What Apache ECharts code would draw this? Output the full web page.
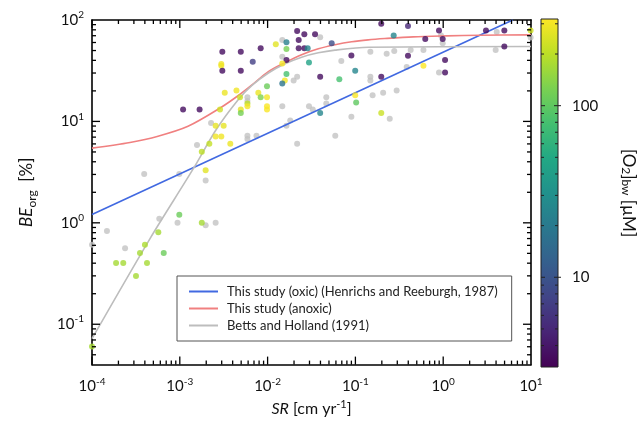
<!DOCTYPE html>
<html><head><meta charset="utf-8">
<script src="https://cdn.jsdelivr.net/npm/echarts@6/dist/echarts.min.js"></script>
<style>html,body{margin:0;padding:0;background:#fff}#c{width:638px;height:422px}</style>
</head><body><div id="c"></div>
<script>
const FONT = 'Lato';

// This study: sedimentation rate [cm/yr], burial efficiency [%], bottom-water O2 [uM]
const srStudy = [3.05e-3,4.95e-3,8.34e-3,1.24e-2,6.77e-3,2.97e-3,2.97e-3,3.05e-3,4.95e-3,3.25e-3,
  4.42e-3,9.84e-3,7.84e-3,4.85e-3,5.89e-3,8.34e-3,9.84e-3,5.89e-3,4.95e-3,4.95e-3,
  9.84e-3,9.84e-3,1.09e-3,1.68e-3,2.87e-3,2.56e-3,3.16e-3,2.56e-3,2.97e-3,3.76e-3,
  2.17e-3,1.78e-3,1.97e-3,9.87e-4,1.78e-3,5.69e-4,4.01e-4,3.52e-4,6.56e-4,1.88e-4,
  2.27e-4,4.23e-4,3.17e-4,1.0e-4,2.17e-2,2.62e-2,3.47e-2,2.26e-2,1.64e-2,5.37e-2,
  2.26e-2,2.62e-2,2.86e-2,1.64e-2,1.64e-2,1.47e-2,2.96e-2,9.00e-2,9.95e-2,1.64e-2,
  1.57e-2,1.47e-2,3.97e-2,6.56e-2,0.197,3.97e-2,9.95e-2,0.102,0.197,0.197,
  0.397,0.273,0.896,0.987,0.625,0.397,0.596,1.05,1.05,3.07,
  4.97,9.9,4.97];
const beStudy = [48.6,48.6,52.6,57.5,38.7,36.8,35.4,31.6,31.6,19.2,
  20.2,22.2,19.2,17.3,15.0,17.3,17.3,14.1,13.1,12.1,
  14.1,13.1,13.1,13.1,13.1,9.06,9.06,7.10,7.10,6.03,
  6.03,5.02,3.30,1.20,1.00,0.807,0.607,0.503,0.503,0.401,
  0.401,0.401,0.299,0.0603,78.0,72.4,72.4,63.5,60.5,59.0,
  52.6,52.6,52.6,51.7,40.3,37.3,38.2,44.7,31.6,29.4,
  25.3,23.6,27.5,26.0,27.5,12.1,18.1,15.4,12.1,92.0,
  87.3,70.5,78.6,64.9,64.9,44.4,35.4,40.3,30.3,78.6,
  78.6,78.6,54.8];
const o2Study = [3.5,3.5,3.5,260,7,290,290,3.5,3.5,280,
  290,110,280,220,200,130,300,300,270,120,
  310,310,3.5,3.5,230,270,270,290,290,280,
  210,200,260,110,170,170,180,170,110,170,
  170,170,170,170,3.5,3.5,3.5,3.5,22,9,
  3.5,3.5,25,120,3.5,300,45,3.5,25,80,
  300,18,3.5,80,3.5,25,310,100,220,3.5,
  5,25,3.5,3.5,3.5,3.5,320,3.5,3.5,3.5,
  3.5,230,3.5];

// Compilation data (grey)
const srOther = [3.97e-2,1.47e-2,1.47e-2,6.91e-2,0.148,2.17e-2,1.98e-2,0.148,0.148,5.89e-3,
  5.89e-3,1.47e-2,2.96e-2,3.27e-2,4.66e-2,4.66e-2,9.00e-2,1.81e-2,1.64e-2,0.157,
  0.207,5.89e-3,5.89e-3,7.47e-3,2.17e-2,5.90e-2,0.227,0.277,0.426,0.596,
  0.944,0.987,0.384,0.896,0.295,0.246,4.07,9.9,3.96,2.27e-3,
  1.57e-3,3.93e-4,9.87e-4,1.97e-3,5.84e-4,9.42e-4,1.97e-3,2.56e-3,1.48e-4,2.38e-4,
  1.0e-4];
const beOther = [67.7,63.5,43.4,39.4,48.6,27.5,25.3,27.5,25.3,17.3,
  15.9,14.1,14.1,13.1,17.3,15.0,11.1,10.2,9.06,18.1,
  19.2,7.22,6.70,7.22,6.03,7.22,46.5,49.4,50.5,50.5,
  70.5,59.0,34.4,30.3,20.2,10.6,76.3,67.1,50.5,9.65,
  5.85,3.03,3.03,2.61,1.10,1.00,0.945,1.00,0.833,0.561,
  0.607];

// Curves
const oxicSR = [1e-4, 6.2];
const oxicBE = [1.21, 100];
const anoxSR = [1e-4,2.71e-4,5.65e-4,1.24e-3,2.97e-3,4.60e-3,6.59e-3,1.02e-2,1.58e-2,2.44e-2,3.78e-2,5.86e-2,9.08e-2,0.140,0.217,0.456,1.10,2.62,10];
const anoxBE = [5.45,6.20,7.15,8.96,13.8,17.9,22.8,31.0,38.0,45.5,52.0,57.0,61.0,63.7,65.6,68.2,69.7,70.8,71.3];
const bhSR = [1e-4,4.58e-4,1.42e-3,2.61e-3,4.60e-3,6.59e-3,1.02e-2,1.58e-2,2.44e-2,3.78e-2,5.86e-2,0.14,10];
const bhBE = [0.072,0.70,3.40,8.37,16.3,22.5,30.0,37.0,43.0,47.5,50.5,53.8,54.7];

const seriesNames = ['This study (oxic) (Henrichs and Reeburgh, 1987)','This study (anoxic)','Betts and Holland (1991)'];
const cbTickLabels = [10,100];

const viridis = ['#440154','#482475','#414487','#355f8d','#2a788e','#21918c','#22a884','#44bf70','#7ad151','#bddf26','#fde725'];
const O2MIN = 3, O2MAX = 320;

const zip = (a,b)=>a.map((v,i)=>[v,b[i]]);
const isPow = v => Math.abs(Math.log10(v) - Math.round(Math.log10(v))) < 1e-6;
const powLabel = v => isPow(v) ? '{b|10}{s|' + Math.round(Math.log10(v)) + '}' : '';
const richPow = {
  b:{fontSize:15, fontFamily:FONT, color:'#111', lineHeight:20},
  s:{fontSize:10, fontFamily:FONT, color:'#111', lineHeight:9, verticalAlign:'top'}
};

// tick marks (major / minor) for log axes
const tickData = [];
for (let e=-4; e<=0; e++) for (let m=1; m<=9; m++) tickData.push([m*Math.pow(10,e), 1, 0, m===1?1:0]);
for (let e=-2; e<=1; e++) for (let m=1; m<=9; m++) { const v=m*Math.pow(10,e); if (v>=0.05 && v<100) tickData.push([0.01, v, 1, m===1?1:0]); }

const cbTicks = [];
for (let e=0; e<=2; e++) for (let m=1; m<=9; m++) { const v=m*Math.pow(10,e); if (v>O2MIN && v<O2MAX) cbTicks.push(v); }

const chart = echarts.init(document.getElementById('c'), null, {renderer:'canvas'});
const axisLineStyle = {color:'#000', width:1.6};

const option = {
  animation:false,
  textStyle:{fontFamily:FONT},
  grid:[
    {left:92, top:20, width:439, height:347},
    {left:541, top:19, width:22, height:348}
  ],
  xAxis:[
    {type:'log', gridIndex:0, logBase:10, min:1e-4, max:10, position:'bottom',
     axisLine:{lineStyle:axisLineStyle}, axisTick:{show:false}, splitLine:{show:false},
     axisLabel:{formatter:powLabel, rich:richPow, margin:12},
     name:'{i|SR}{n| [cm yr}{s|-1}{n|]}', nameLocation:'middle', nameGap:34,
     nameTextStyle:{rich:{
       i:{fontSize:16,fontStyle:'italic',fontFamily:FONT,color:'#111',lineHeight:20},
       n:{fontSize:16,fontFamily:FONT,color:'#111',lineHeight:20},
       s:{fontSize:11,fontFamily:FONT,color:'#111',lineHeight:9,verticalAlign:'top'}}}},
    {type:'log', gridIndex:0, logBase:10, min:1e-4, max:10, position:'top',
     axisLine:{lineStyle:axisLineStyle}, axisTick:{show:false}, axisLabel:{show:false}, splitLine:{show:false}},
    {type:'value', gridIndex:1, min:0, max:1, show:false}
  ],
  yAxis:[
    {type:'log', gridIndex:0, logBase:10, min:0.04, max:100, position:'left',
     axisLine:{lineStyle:axisLineStyle}, axisTick:{show:false}, splitLine:{show:false},
     axisLabel:{formatter:powLabel, rich:richPow, margin:8},
     name:'{i|BE}{sub|org}{n|  [%]}', nameLocation:'middle', nameGap:54,
     nameTextStyle:{rich:{
       i:{fontSize:17,fontStyle:'italic',fontFamily:FONT,color:'#111',lineHeight:22},
       n:{fontSize:17,fontFamily:FONT,color:'#111',lineHeight:22},
       sub:{fontSize:12,fontFamily:FONT,color:'#111',lineHeight:9,verticalAlign:'bottom'}}}},
    {type:'log', gridIndex:0, logBase:10, min:0.04, max:100, position:'right',
     axisLine:{lineStyle:axisLineStyle}, axisTick:{show:false}, axisLabel:{show:false}, splitLine:{show:false}},
    {type:'log', gridIndex:1, logBase:10, min:O2MIN, max:O2MAX, position:'right',
     axisLine:{show:false}, axisTick:{show:false}, splitLine:{show:false},
     axisLabel:{formatter:v => cbTickLabels.some(t=>Math.abs(t-v)<1e-6) ? String(Math.round(v)) : '',
                fontSize:15, fontFamily:FONT, color:'#111', margin:14},
     name:'[O{sub|2}]{sub|bw} [µM]', nameLocation:'middle', nameRotate:-90, nameGap:62,
     nameTextStyle:{fontSize:17, fontFamily:FONT, color:'#111',
       rich:{sub:{fontSize:12,fontFamily:FONT,color:'#111',lineHeight:9,verticalAlign:'bottom'}}}}
  ],
  visualMap:[{type:'continuous', show:false, seriesIndex:4, dimension:2,
    min:Math.log10(O2MIN), max:Math.log10(O2MAX), inRange:{color:viridis}}],
  legend:{
    data:seriesNames, orient:'vertical', left:177, top:276,
    padding:[9,14,9,11], itemGap:4, itemWidth:29, itemHeight:14,
    itemStyle:{opacity:0},
    borderColor:'#555', borderWidth:1, backgroundColor:'#fff',
    textStyle:{fontSize:13, fontFamily:FONT, color:'#222', padding:[0,0,0,4]}
  },
  series:[
    {name:'others', type:'scatter', xAxisIndex:0, yAxisIndex:0, symbolSize:6,
     itemStyle:{color:'#c3c3c3'}, data:zip(srOther, beOther), z:2},
    {name:seriesNames[0], type:'line', xAxisIndex:0, yAxisIndex:0, symbol:'none',
     lineStyle:{color:'#4169e1', width:1.6}, itemStyle:{color:'#4169e1'}, data:zip(oxicSR, oxicBE), z:3},
    {name:seriesNames[1], type:'line', xAxisIndex:0, yAxisIndex:0, symbol:'none', smooth:0.3,
     lineStyle:{color:'#f08080', width:1.6}, itemStyle:{color:'#f08080'}, data:zip(anoxSR, anoxBE), z:3},
    {name:seriesNames[2], type:'line', xAxisIndex:0, yAxisIndex:0, symbol:'none', smooth:0.3,
     lineStyle:{color:'#bdbdbd', width:1.6}, itemStyle:{color:'#bdbdbd'}, data:zip(bhSR, bhBE), z:3},
    {name:'study', type:'scatter', xAxisIndex:0, yAxisIndex:0, symbolSize:6,
     data:srStudy.map((x,i)=>[x, beStudy[i], Math.log10(o2Study[i])]), z:4},
    {name:'ticks', type:'custom', xAxisIndex:0, yAxisIndex:0, silent:true, z:6, data:tickData,
     renderItem:(params, api)=>{
       const cs = params.coordSys;
       const p = api.coord([api.value(0), api.value(1)]);
       const L = api.value(3) ? 8 : 4;
       const st = {stroke:'#000', lineWidth:1.3};
       if (api.value(2)===0) {
         return {type:'group', children:[
           {type:'line', shape:{x1:p[0], y1:cs.y+cs.height, x2:p[0], y2:cs.y+cs.height-L}, style:st},
           {type:'line', shape:{x1:p[0], y1:cs.y, x2:p[0], y2:cs.y+L}, style:st}]};
       }
       return {type:'group', children:[
         {type:'line', shape:{x1:cs.x, y1:p[1], x2:cs.x+L, y2:p[1]}, style:st},
         {type:'line', shape:{x1:cs.x+cs.width, y1:p[1], x2:cs.x+cs.width-L, y2:p[1]}, style:st}]};
     }},
    {name:'colorbar', type:'custom', xAxisIndex:2, yAxisIndex:2, silent:true, z:5, data:[[0.5, 10]],
     renderItem:(params, api)=>{
       const top = api.coord([0, O2MAX]), bot = api.coord([0, O2MIN]);
       const right = api.coord([1, O2MAX]);
       const x0 = top[0], x1 = right[0], y0 = top[1], y1 = bot[1];
       const stops = viridis.map((c,i)=>({offset:i/(viridis.length-1), color:c}));
       const children = [
         {type:'rect', shape:{x:x0, y:y0, width:x1-x0, height:y1-y0},
          style:{fill:new echarts.graphic.LinearGradient(0,1,0,0,stops), stroke:'#222', lineWidth:1}}];
       cbTicks.forEach(v=>{
         const yy = api.coord([0, v])[1];
         const major = cbTickLabels.includes(v);
         children.push({type:'line', shape:{x1:x0, y1:yy, x2:x0+(major?4:3), y2:yy}, style:{stroke:'#222', lineWidth:1}});
         children.push({type:'line', shape:{x1:x1-(major?4:3), y1:yy, x2:x1+(major?3:0), y2:yy}, style:{stroke:'#222', lineWidth:1}});
       });
       return {type:'group', children};
     }}
  ]
};
chart.setOption(option);
</script></body></html>
